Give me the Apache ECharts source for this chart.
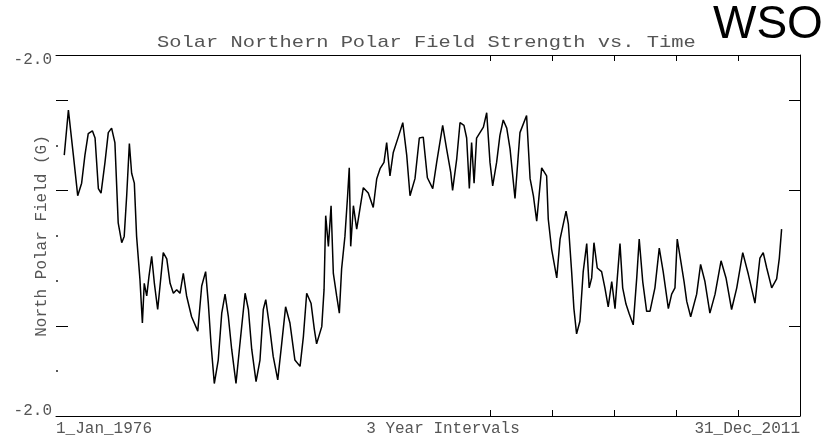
<!DOCTYPE html>
<html>
<head>
<meta charset="utf-8">
<script src="https://cdn.jsdelivr.net/npm/echarts@6/dist/echarts.min.js"></script>
<style>
  html, body { margin: 0; padding: 0; background: #fff; }
  #main { width: 823px; height: 436px; }
</style>
</head>
<body>
<div id="main"></div>
<script>
// decimal year of each reading
const years = [
  1976.40, 1976.60, 1976.84, 1977.00, 1977.05, 1977.24, 1977.40, 1977.56, 1977.76, 1977.89,
  1978.05, 1978.18, 1978.37, 1978.53, 1978.69, 1978.85, 1979.01, 1979.18, 1979.30, 1979.42,
  1979.55, 1979.66, 1979.79, 1979.90, 1980.06, 1980.18, 1980.27, 1980.39, 1980.50, 1980.63,
  1980.76, 1980.92, 1981.08, 1981.19, 1981.36, 1981.52, 1981.68, 1981.84, 1982.00, 1982.16,
  1982.32, 1982.56, 1982.86, 1983.05, 1983.24, 1983.37, 1983.50, 1983.66, 1983.85, 1984.02,
  1984.18, 1984.34, 1984.50, 1984.71, 1984.90, 1985.15, 1985.31, 1985.47, 1985.68, 1985.87,
  1986.03, 1986.15, 1986.35, 1986.51, 1986.73, 1986.92, 1987.11, 1987.32, 1987.56, 1987.81,
  1987.97, 1988.13, 1988.34, 1988.50, 1988.61, 1988.86, 1988.97, 1989.05, 1989.18, 1989.31,
  1989.42, 1989.58, 1989.71, 1989.82, 1989.98, 1990.11, 1990.19, 1990.26, 1990.39, 1990.55,
  1990.71, 1990.87, 1991.11, 1991.35, 1991.52, 1991.68, 1991.87, 1992.00, 1992.16, 1992.32,
  1992.56, 1992.78, 1992.97, 1993.13, 1993.37, 1993.58, 1993.77, 1993.97, 1994.23, 1994.42,
  1994.71, 1994.90, 1995.10, 1995.19, 1995.39, 1995.55, 1995.74, 1995.87, 1996.00, 1996.11,
  1996.23, 1996.35, 1996.68, 1996.84, 1997.00, 1997.13, 1997.32, 1997.48, 1997.64, 1997.81,
  1997.97, 1998.21, 1998.45, 1998.77, 1998.94, 1999.10, 1999.26, 1999.50, 1999.74, 1999.82,
  1999.98, 2000.23, 2000.39, 2000.68, 2000.79, 2000.95, 2001.06, 2001.19, 2001.35, 2001.51,
  2001.68, 2001.80, 2001.92, 2002.03, 2002.19, 2002.40, 2002.56, 2002.72, 2002.89, 2003.05,
  2003.16, 2003.29, 2003.42, 2003.58, 2003.74, 2003.93, 2004.10, 2004.22, 2004.39, 2004.58,
  2004.74, 2004.98, 2005.19, 2005.38, 2005.63, 2005.79, 2005.95, 2006.06, 2006.23, 2006.39,
  2006.52, 2006.71, 2007.00, 2007.19, 2007.40, 2007.64, 2007.89, 2008.18, 2008.42, 2008.69,
  2008.94, 2009.23, 2009.50, 2009.82, 2010.06, 2010.22, 2010.39, 2010.63, 2010.87, 2011.00,
  2011.11
];
// north polar field (G)
const field = [
   0.89,  1.39,  0.89,  0.55,  0.44,  0.58,  0.89,  1.13,  1.16,  1.08,
   0.52,  0.47,  0.81,  1.14,  1.19,  1.03,  0.14, -0.08, -0.01,  0.44,
   1.02,  0.69,  0.58, -0.01, -0.48, -0.97, -0.53, -0.67, -0.45, -0.23,
  -0.53, -0.82, -0.45, -0.19, -0.26, -0.53, -0.64, -0.60, -0.64, -0.42,
  -0.67, -0.90, -1.06, -0.56, -0.40, -0.75, -1.20, -1.64, -1.38, -0.86,
  -0.65, -0.90, -1.26, -1.64, -1.20, -0.64, -0.82, -1.26, -1.62, -1.38,
  -0.82, -0.71, -1.04, -1.34, -1.60, -1.20, -0.79, -0.97, -1.38, -1.45,
  -1.12, -0.64, -0.75, -1.04, -1.20, -1.01, -0.60,  0.22, -0.12,  0.33,
  -0.42, -0.67, -0.86, -0.37, -0.01,  0.44,  0.75, -0.12,  0.33,  0.07,
   0.30,  0.53,  0.47,  0.31,  0.63,  0.74,  0.81,  1.03,  0.66,  0.92,
   1.09,  1.25,  0.89,  0.44,  0.63,  1.08,  1.09,  0.64,  0.52,  0.81,
   1.22,  0.96,  0.70,  0.50,  0.85,  1.25,  1.22,  1.08,  0.52,  1.03,
   0.58,  1.08,  1.20,  1.36,  0.81,  0.55,  0.81,  1.11,  1.28,  1.19,
   0.96,  0.41,  1.14,  1.33,  0.63,  0.44,  0.16,  0.75,  0.66,  0.18,
  -0.15, -0.47, -0.04,  0.27,  0.13, -0.40, -0.81, -1.09, -0.95, -0.40,
  -0.09, -0.58, -0.47, -0.08, -0.36, -0.40, -0.58, -0.79, -0.51, -0.81,
  -0.47, -0.09, -0.58, -0.76, -0.87, -0.99, -0.47, -0.04, -0.51, -0.84,
  -0.84, -0.58, -0.14, -0.40, -0.81, -0.65, -0.58, -0.04, -0.28, -0.51,
  -0.73, -0.90, -0.65, -0.32, -0.51, -0.86, -0.65, -0.28, -0.47, -0.82,
  -0.58, -0.19, -0.43, -0.75, -0.25, -0.19, -0.36, -0.58, -0.48, -0.25,
   0.07
];
const longTicks = [1.5, 0.5, -1.0];
const dotTicks = [1.0, 0, -0.5, -1.5];
const yearTicks = [1997, 2000, 2003, 2006, 2009];

const chart = echarts.init(document.getElementById('main'));
const mono = 'Liberation Mono';
const grey = '#555';

const xBase = (pos) => ({
  type: 'value', min: 1976, max: 2012, position: pos,
  axisLine: { show: true, onZero: false, lineStyle: { color: '#000', width: 1 } },
  axisTick: { show: true, inside: true, length: 6, customValues: yearTicks, lineStyle: { color: '#000' } },
  axisLabel: { show: false },
  splitLine: { show: false }
});

const option = {
  animation: false,
  backgroundColor: '#fff',
  grid: { left: 56, right: 23, top: 55, bottom: 20 },
  xAxis: [xBase('bottom'), xBase('top')],
  yAxis: [
    {
      type: 'value', min: -2, max: 2, position: 'left',
      axisLine: { show: false, onZero: false },
      axisTick: { show: true, inside: true, length: 12, customValues: longTicks, lineStyle: { color: '#000' } },
      axisLabel: { show: false }, splitLine: { show: false }
    },
    {
      type: 'value', min: -2, max: 2, position: 'left',
      axisLine: { show: false, onZero: false },
      axisTick: { show: true, inside: true, length: 2, customValues: dotTicks, lineStyle: { color: '#222', width: 1.5 } },
      axisLabel: { show: false }, splitLine: { show: false }
    },
    {
      type: 'value', min: -2, max: 2, position: 'right',
      axisLine: { show: true, onZero: false, lineStyle: { color: '#000', width: 1 } },
      axisTick: { show: true, inside: true, length: 11, customValues: longTicks, lineStyle: { color: '#000' } },
      axisLabel: { show: false }, splitLine: { show: false }
    }
  ],
  series: [{
    type: 'line',
    data: years.map((t, i) => [t, field[i]]),
    showSymbol: false,
    lineStyle: { color: '#000', width: 1.5 },
    xAxisIndex: 0, yAxisIndex: 0
  }],
  graphic: [
    { type: 'text', x: 157, y: 42, scaleX: 1.2,
      style: { text: 'Solar Northern Polar Field Strength vs. Time', font: '17px "' + mono + '"', fill: grey, textAlign: 'left', textVerticalAlign: 'middle' } },
    { type: 'text', x: 713, y: 48,
      style: { text: 'WSO', font: '46px "Liberation Sans"', fill: '#000', textAlign: 'left', textVerticalAlign: 'bottom' } },
    { type: 'text', x: 52, y: 60,
      style: { text: '-2.0', font: '16px "' + mono + '"', fill: grey, textAlign: 'right', textVerticalAlign: 'middle' } },
    { type: 'text', x: 52, y: 411,
      style: { text: '-2.0', font: '16px "' + mono + '"', fill: grey, textAlign: 'right', textVerticalAlign: 'middle' } },
    { type: 'text', x: 56, y: 429,
      style: { text: '1_Jan_1976', font: '16px "' + mono + '"', fill: grey, textAlign: 'left', textVerticalAlign: 'middle' } },
    { type: 'text', x: 443, y: 429,
      style: { text: '3 Year Intervals', font: '16px "' + mono + '"', fill: grey, textAlign: 'center', textVerticalAlign: 'middle' } },
    { type: 'text', x: 800, y: 429,
      style: { text: '31_Dec_2011', font: '16px "' + mono + '"', fill: grey, textAlign: 'right', textVerticalAlign: 'middle' } },
    { type: 'text', x: 42, y: 236, rotation: Math.PI / 2,
      style: { text: 'North Polar Field (G)', font: '16px "' + mono + '"', fill: grey, textAlign: 'center', textVerticalAlign: 'middle' } }
  ]
};
chart.setOption(option);
</script>
</body>
</html>
